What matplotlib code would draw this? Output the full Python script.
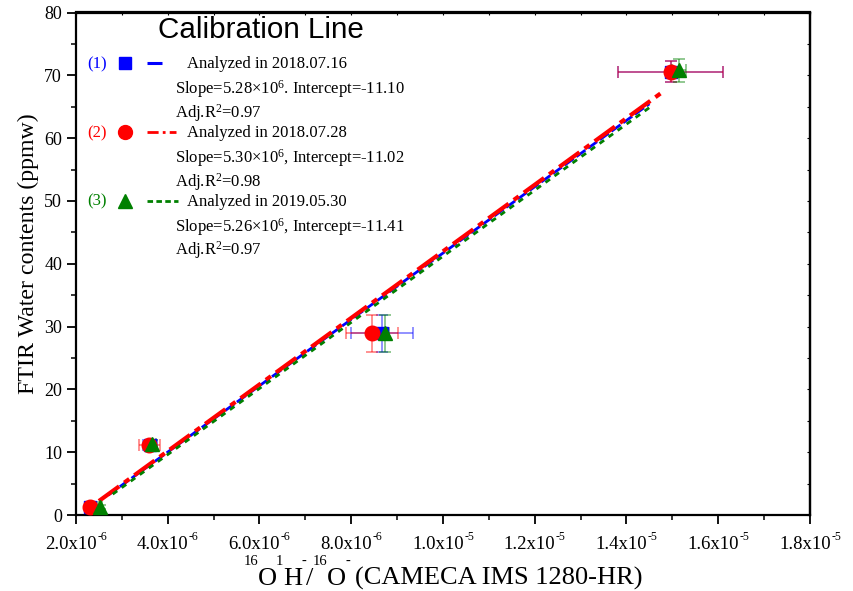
import numpy as np
import matplotlib
matplotlib.use("Agg")
import matplotlib.pyplot as plt
from matplotlib.ticker import MultipleLocator
from matplotlib.transforms import IdentityTransform

plt.rcParams["font.family"] = ["Liberation Serif", "DejaVu Serif"]
plt.rcParams["mathtext.fontset"] = "custom"
plt.rcParams["mathtext.rm"] = "Liberation Serif"
plt.rcParams["mathtext.it"] = "Liberation Serif:italic"
plt.rcParams["mathtext.bf"] = "Liberation Serif:bold"

# session 1: 2018.07.16
x1 = [2.30e-6, 3.61e-6, 8.67e-6, 14.96e-6]
y1 = [1.3, 11.2, 28.9, 70.6]
xerr1 = [0.05e-6, 0.15e-6, 0.68e-6, 1.15e-6]
yerr1 = [0.3, 0.6, 2.9, 1.7]
slope1, icpt1, r2_1 = 5.28e6, -11.10, 0.97
fit1 = [2.7e-6, 14.5e-6]

# session 2: 2018.07.28
x2 = [2.30e-6, 3.60e-6, 8.45e-6, 14.96e-6]
y2 = [1.3, 11.2, 28.9, 70.6]
xerr2 = [0.05e-6, 0.23e-6, 0.57e-6, 1.15e-6]
yerr2 = [0.3, 0.6, 2.9, 1.6]
slope2, icpt2, r2_2 = 5.30e6, -11.02, 0.98
fit2 = [2.5e-6, 14.8e-6]

# session 3: 2019.05.30
x3 = [2.52e-6, 3.66e-6, 8.73e-6, 15.14e-6]
y3 = [1.3, 11.3, 28.9, 70.8]
xerr3 = [0.05e-6, 0.08e-6, 0.10e-6, 0.15e-6]
yerr3 = [0.3, 0.6, 3.0, 1.8]
slope3, icpt3, r2_3 = 5.26e6, -11.41, 0.97
fit3 = [2.8e-6, 14.5e-6]

dates = ["2018.07.16", "2018.07.28", "2019.05.30"]
slope_txt = ["5.28", "5.30", "5.26"]
icpt_txt = ["-11.10", "-11.02", "-11.41"]
seps = [".", ",", ","]

xticks = [2e-6, 4e-6, 6e-6, 8e-6, 1e-5, 1.2e-5, 1.4e-5, 1.6e-5, 1.8e-5]

colors = ["#0000ff", "#ff0000", "#008000"]
markers = ["s", "o", "^"]
msizes = [9, 10.5, 10]
styles = [(0, (4, 1.2)), (0, (6, 1.5, 1.5, 1.5)), (0, (2, 2))]
widths = [2.0, 3.0, 2.0]

W, H = 854, 591
fig = plt.figure(figsize=(W / 100, H / 100), dpi=100)
ax = fig.add_axes([76 / W, 1 - 515 / H, 734 / W, 502.5 / H])

series = [(x1, y1, xerr1, yerr1, slope1, icpt1, fit1),
          (x2, y2, xerr2, yerr2, slope2, icpt2, fit2),
          (x3, y3, xerr3, yerr3, slope3, icpt3, fit3)]

for i, (xs, ys, xe, ye, s, b, fr) in enumerate(series):
    xf = np.array(fr)
    ax.plot(xf, s * xf + b, color=colors[i], ls=styles[i], lw=widths[i], zorder=2)
    ax.errorbar(xs, ys, xerr=xe, yerr=ye, fmt="none", ecolor=colors[i],
                elinewidth=1.1, capsize=4, capthick=1.1, alpha=0.55, zorder=3)
for i, (xs, ys, xe, ye, s, b, fr) in enumerate(series):
    ax.plot(xs, ys, ls="none", marker=markers[i], ms=msizes[i], color=colors[i],
            mec=colors[i], zorder=4 + i)

ax.set_xlim(2e-6, 1.8e-5)
ax.set_ylim(0, 80)
ax.set_xticks(xticks)
ax.xaxis.set_minor_locator(MultipleLocator(1e-6))
ax.yaxis.set_major_locator(MultipleLocator(10))
ax.yaxis.set_minor_locator(MultipleLocator(5))

ax.tick_params(which="both", direction="out", top=False, right=False)
ax.tick_params(which="major", length=6.5, width=1.3)
ax.tick_params(which="minor", length=3.5, width=1.1)
ax.tick_params(axis="y", labelsize=13, pad=3.5)
ax.tick_params(axis="x", labelbottom=False)
for sp in ax.spines.values():
    sp.set_linewidth(1.6)

# small ticks on the top and right frame
axt = ax.secondary_xaxis("top")
axt.set_xticks(xticks)
axt.xaxis.set_minor_locator(MultipleLocator(1e-6))
axt.tick_params(which="both", direction="in", length=2, width=0.8, labeltop=False)
axr = ax.secondary_yaxis("right")
axr.yaxis.set_major_locator(MultipleLocator(10))
axr.yaxis.set_minor_locator(MultipleLocator(5))
axr.tick_params(which="both", direction="in", length=2, width=0.8, labelright=False)
for a in (axt, axr):
    for sp in a.spines.values():
        sp.set_linewidth(1.6)

renderer = fig.canvas.get_renderer()


def rich_text(xc, y_base_px, chunks):
    """Lay out (text, size, rise_px, gap_px) pieces on one baseline, centred on xc."""
    objs, total = [], 0.0
    for s, size, rise, gap in chunks:
        t = fig.text(0, 0, s, fontsize=size, transform=IdentityTransform(),
                     ha="left", va="baseline")
        w = t.get_window_extent(renderer).width
        objs.append((t, rise, gap, w))
        total += w + gap
    x = xc - total / 2
    yb = H - y_base_px
    for t, rise, gap, w in objs:
        x += gap
        t.set_position((x, yb + rise))
        x += w


# x tick labels with small raised exponents
for v in xticks:
    e = int(np.floor(np.log10(v) + 1e-9))
    m = v / 10 ** e
    xc = ax.transData.transform((v, 0))[0]
    rich_text(xc, 549, [(f"{m:.1f}x10", 13.5, 0, 0), (f"-{-e}", 8.5, 9, 0.5)])

# x axis title
sup, big, rise = 10.5, 19, 20
rich_text(443, 585, [("16", sup, rise, 0), ("O", big, 0, -0.5), ("1", sup, rise, -0.5),
                     ("H", big, 0, -0.5), ("-", sup, rise, -0.5), ("/", big, 0, -0.5),
                     ("16", sup, rise, -0.5), ("O", big, 0, -0.5), ("-", sup, rise, -0.5),
                     ("(CAMECA IMS 1280-HR)", big, 0, 5)])

ax.set_ylabel("FTIR Water contents (ppmw)", fontsize=17.2)
ax.yaxis.set_label_coords(-0.05, 0.52)

ax.text(0.112, 0.949, "Calibration Line", transform=ax.transAxes,
        fontsize=21.3, family="Liberation Sans", ha="left", va="baseline")


# hand-built legend block, positions in axes fraction
def fx(px):
    return (px - 76) / 734


def fy(py):
    return (515 - py) / 502.5


row_base = [68.3, 137.3, 205.7]
for i in range(3):
    yb = row_base[i]
    yc = yb - 5
    ax.text(fx(87), fy(yb), f"({i + 1})", color=colors[i], fontsize=12,
            transform=ax.transAxes, va="baseline", ha="left")
    ax.plot([fx(125)], [fy(yc)], marker=markers[i], ms=msizes[i] - 0.5,
            color=colors[i], transform=ax.transAxes, clip_on=False, ls="none")
    x_end = [162, 176, 178][i]
    ax.plot([fx(147), fx(x_end)], [fy(yc), fy(yc)], color=colors[i],
            ls=[(0, (8, 2)), (0, (4, 1.5, 1, 1.5)), (0, (2, 1.2))][i],
            lw=[2.2, 2.0, 2.0][i], transform=ax.transAxes, clip_on=False)
    ax.text(fx(187), fy(yb), f"Analyzed in {dates[i]}", fontsize=12,
            transform=ax.transAxes, va="baseline", ha="left")
    ax.text(fx(175), fy(yb + 25.5),
            f"Slope={slope_txt[i]}\u00d710$^{{6}}${seps[i]} Intercept={icpt_txt[i]}",
            fontsize=12, transform=ax.transAxes, va="baseline", ha="left")
    ax.text(fx(175), fy(yb + 49), f"Adj.R$^{{2}}$={[r2_1, r2_2, r2_3][i]:.2f}",
            fontsize=12, transform=ax.transAxes, va="baseline", ha="left")

fig.savefig("out.png", dpi=100)
